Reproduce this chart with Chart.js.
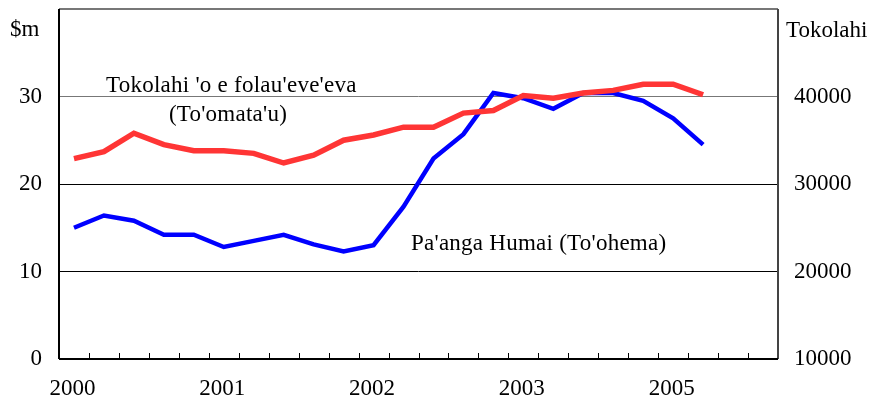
<!DOCTYPE html>
<html><head><meta charset="utf-8">
<script src="https://cdn.jsdelivr.net/npm/chart.js@4/dist/chart.umd.min.js"></script>
<style>html,body{margin:0;padding:0;background:#fff}#wrap{width:873px;height:401px;position:relative}</style>
</head><body><div id="wrap"><canvas id="c" width="873" height="401"></canvas></div>
<script>
const categories = ['2000','','','','','2001','','','','','2002','','','','','2003','','','','','2005','','',''];
const receipts = [15.0,16.4,15.8,14.2,14.2,12.8,13.5,14.2,13.1,12.3,13.0,17.4,22.9,25.7,30.4,29.8,28.6,30.4,30.4,29.5,27.5,24.5];
const arrivals = [32900,33700,35800,34500,33800,33800,33500,32400,33300,35000,35600,36500,36500,38100,38400,40100,39800,40400,40700,41400,41400,40200];
const leftTicks = [0,10,20,30];
const rightTicks = [10000,20000,30000,40000];
const FONT = '"Liberation Serif", "Times New Roman", serif';
const FSIZE = 23;

const overlay = {
  id:'overlay',
  beforeDatasetsDraw(chart){
    const {ctx, chartArea:a} = chart;
    ctx.save();
    ctx.strokeStyle = '#777'; ctx.lineWidth = 2;
    ctx.beginPath(); ctx.moveTo(a.left, a.top); ctx.lineTo(a.right, a.top); ctx.stroke();
    ctx.strokeStyle = '#444';
    ctx.beginPath(); ctx.moveTo(a.right, a.top); ctx.lineTo(a.right, a.bottom); ctx.stroke();
    ctx.restore();
  },
  afterDraw(chart){
    const {ctx, chartArea:a, scales} = chart;
    const xs = scales.x, ys = scales.y, y2 = scales.y2; const n = categories.length;
    ctx.save();
    // inward tick marks on the category axis
    ctx.strokeStyle = '#000'; ctx.lineWidth = 1;
    ctx.beginPath();
    for (let i=1;i<n;i++){ const x = Math.round(xs.left + i*(xs.right-xs.left)/n)+0.5; ctx.moveTo(x,a.bottom); ctx.lineTo(x,a.bottom-6); }
    ctx.stroke();
    ctx.strokeStyle = '#000'; ctx.lineWidth = 2;
    ctx.beginPath(); ctx.moveTo(a.left, a.bottom); ctx.lineTo(a.right, a.bottom); ctx.stroke();
    ctx.beginPath(); ctx.moveTo(a.left, a.top); ctx.lineTo(a.left, a.bottom); ctx.stroke();

    ctx.fillStyle = '#000';
    ctx.font = FSIZE + 'px ' + FONT;
    // tick labels
    ctx.textBaseline = 'middle';
    ctx.textAlign = 'right';
    leftTicks.forEach(v => ctx.fillText(String(v), 42, ys.getPixelForValue(v)));
    ctx.textAlign = 'left';
    rightTicks.forEach(v => ctx.fillText(String(v), 794, y2.getPixelForValue(v)));
    ctx.textAlign = 'center';
    categories.forEach((c,i) => { if (c) ctx.fillText(c, xs.getPixelForValue(i) - 1.5, a.bottom + 30); });

    // titles and annotations
    ctx.textBaseline = 'alphabetic';
    ctx.textAlign = 'left';
    ctx.fillText('$m', 10, 36);
    ctx.fillText('Tokolahi', 786, 37);
    ctx.letterSpacing = '0.25px';
    ctx.fillText("Tokolahi 'o e folau'eve'eva", 106, 92);
    ctx.textAlign = 'center';
    ctx.fillText("(To'omata'u)", 228, 121);
    ctx.textAlign = 'left';
    ctx.fillText("Pa'anga Humai (To'ohema)", 411, 250);
    ctx.restore();
  }
};

new Chart(document.getElementById('c'), {
  type:'line',
  data:{
    labels: categories,
    datasets:[
      {label:'Arrivals', data: arrivals, yAxisID:'y2', borderColor:'#ff3535', borderWidth:5.5, pointRadius:0, tension:0, fill:false},
      {label:'Receipts', data: receipts, yAxisID:'y', borderColor:'#0000ff', borderWidth:4.5, pointRadius:0, tension:0, fill:false}
    ]
  },
  options:{
    responsive:false, animation:false,
    layout:{padding:{top:9,left:0,right:0,bottom:0}},
    plugins:{legend:{display:false}, tooltip:{enabled:false}},
    scales:{
      x:{
        offset:true,
        grid:{display:false, drawTicks:false},
        border:{display:false},
        ticks:{display:false},
        afterFit(s){ s.height = 42; }
      },
      y:{
        position:'left', min:0, max:40,
        afterBuildTicks(s){ s.ticks = leftTicks.map(v=>({value:v})); },
        grid:{drawTicks:false, color:(c)=> c.tick && c.tick.value===30 ? '#777' : (c.tick && c.tick.value===0 ? 'rgba(0,0,0,0)' : '#000'), lineWidth:1},
        border:{display:false},
        ticks:{display:false},
        afterFit(s){ s.width = 59; }
      },
      y2:{
        position:'right', min:10000, max:50000,
        afterBuildTicks(s){ s.ticks = rightTicks.map(v=>({value:v})); },
        grid:{display:false, drawTicks:false},
        border:{display:false},
        ticks:{display:false},
        afterFit(s){ s.width = 95; }
      }
    }
  },
  plugins:[overlay]
});
</script></body></html>
